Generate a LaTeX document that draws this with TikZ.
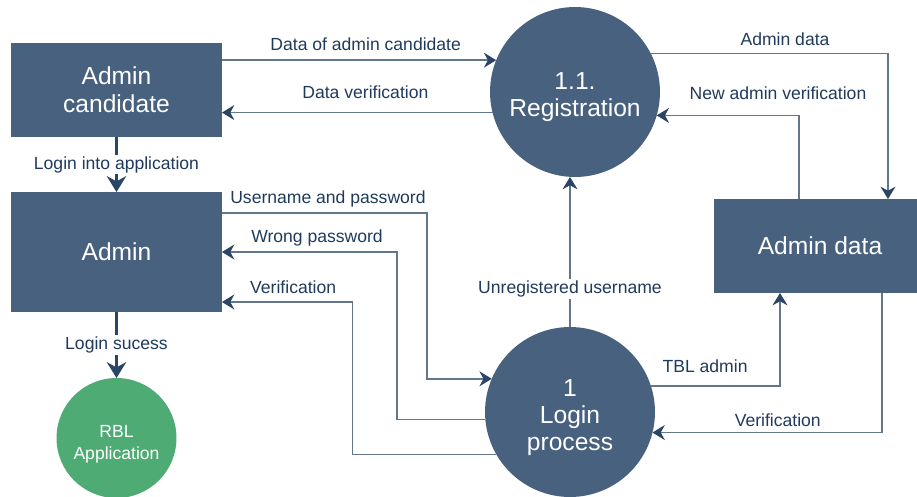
\documentclass[tikz,border=0pt]{standalone}
\usepackage{fontspec}
\setmainfont{Liberation Sans}
\usetikzlibrary{positioning, arrows.meta}
\definecolor{boxblue}{HTML}{48617F}
\definecolor{appgreen}{HTML}{4FAB74}
\definecolor{linegrey}{HTML}{62768C}
\definecolor{tipnavy}{HTML}{2B4567}
\definecolor{labelnavy}{HTML}{1F3A5C}
\tikzset{
    %Define style for entities and stores
    entity/.style={
           rectangle,
           fill=boxblue,
           text=white,
           font=\fontsize{14}{16}\selectfont,
           align=center,
           outer sep=0pt},
 %
    process/.style={
           circle,
           fill=boxblue,
           text=white,
           minimum size=3.4cm,
           font=\fontsize{14}{15.5}\selectfont,
           align=center,
           outer sep=0pt},
 %
    appnode/.style={
           circle,
           fill=appgreen,
           text=white,
           minimum size=2.4cm,
           font=\fontsize{10}{12}\selectfont,
           align=center,
           outer sep=0pt},
 %
    % Define arrow styles
    flow/.style={
           draw=linegrey,
           line width=1pt,
           -{Stealth[length=7pt, width=8.5pt, color=tipnavy]}},
    mainflow/.style={
           draw=tipnavy,
           line width=2pt,
           -{Stealth[length=9pt, width=11pt]}},
    flowlabel/.style={
           font=\fontsize{10}{12}\selectfont,
           text=labelnavy,
           inner sep=1pt}
}
% taller first line, pushes the text in the circles a little lower
\newcommand{\lowertext}[1]{\rule{0pt}{#1}}

\begin{document}
\begin{tikzpicture}[x=0.02cm, y=-0.02cm]
  \useasboundingbox (0,0) rectangle (917,497);

  \node[entity, minimum width=4.22cm, minimum height=1.88cm] (cand) at (116.5,90) {Admin\\candidate};
  \node[entity, minimum width=4.22cm, minimum height=2.4cm] (admin) at (116.5,252) {Admin};
  \node[appnode] (rbl) at (116.5,438) {\lowertext{14pt}RBL\\Application};
  \node[process] (reg) at (575,92) {\lowertext{15.7pt}1.1.\\Registration};
  \node[process] (login) at (570,412) {\lowertext{15.7pt}1\\Login\\process};
  \node[entity, minimum width=4.24cm, minimum height=1.88cm] (store) at (820,246) {Admin data};

  % registration
  \draw[flow] (cand.east |- reg.158) -- (reg.158)
    node[flowlabel, pos=0.524, above=3.9pt] {Data of admin candidate};
  \draw[flow] (reg.194) -- (reg.194 -| cand.east)
    node[flowlabel, pos=0.47, above=6.2pt] {Data verification};
  \draw[mainflow] (cand) -- (admin)
    node[flowlabel, midway, fill=white] {Login into application};
  \draw[mainflow] (admin) -- (rbl)
    node[flowlabel, midway, fill=white] {Login sucess};

  % login process
  \draw[flow] ([yshift=0.78cm]admin.east) -- ++(205,0)
    node[flowlabel, pos=0.517, above=2pt] {Username and password} |- (login.157);
  \draw[flow] (login.185) -- ++(-88,0) |- (admin.east)
    node[flowlabel, pos=0.729, above=2pt] {Wrong password};
  \draw[flow] (login.210) -- ++(-144,0) |- ([yshift=-1cm]admin.east)
    node[flowlabel, pos=0.727, above=3.5pt] {Verification};
  \draw[flow] (login.north) -- (login.north |- reg.south)
    node[flowlabel, pos=0.253, fill=white] {Unregistered username};

  % admin data store
  \draw[flow] (reg.27) -| ([xshift=1.36cm]store.north)
    node[flowlabel, pos=0.283, above=2.8pt] {Admin data};
  \draw[flow] ([xshift=-0.42cm]store.north) |- (reg.-16)
    node[flowlabel, pos=0.574, above=7.7pt] {New admin verification};
  \draw[flow] (login.18) -| ([xshift=-0.8cm]store.south)
    node[flowlabel, pos=0.21, above=6.2pt] {TBL admin};
  \draw[flow] ([xshift=1.24cm]store.south) |- (login.-14)
    node[flowlabel, pos=0.727, above=2pt] {Verification};
\end{tikzpicture}
\end{document}
